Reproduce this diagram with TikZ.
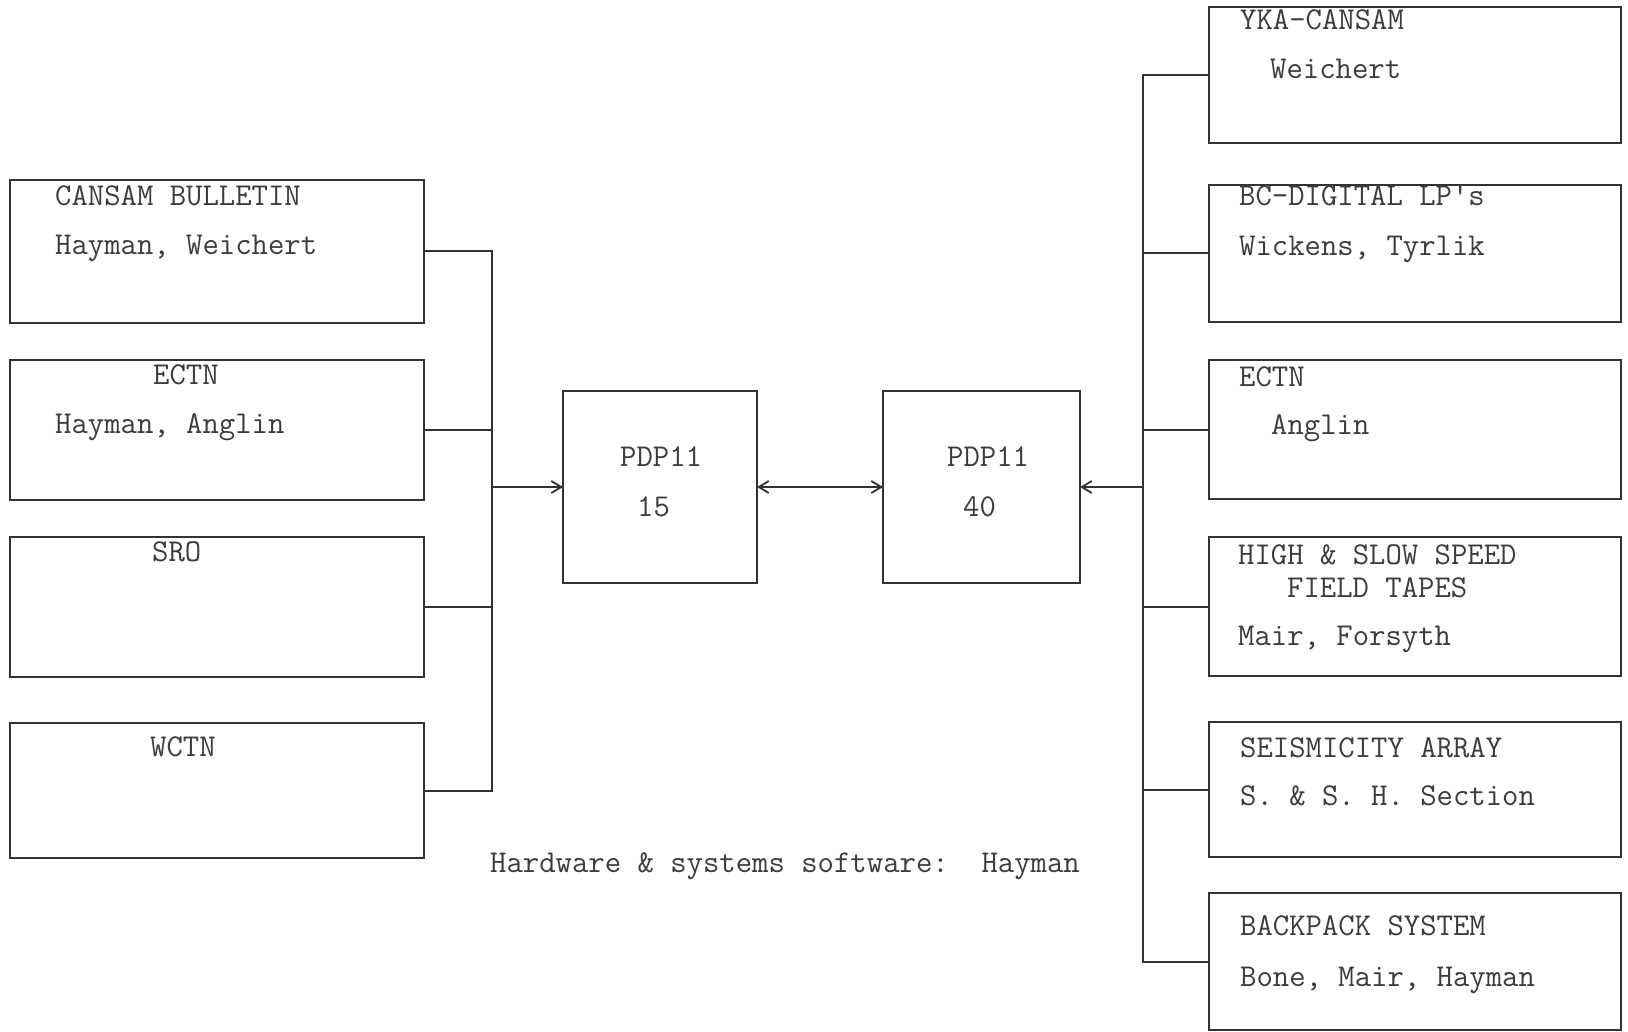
\documentclass[tikz,border=0pt]{standalone}
\usepackage{fontspec}
\usetikzlibrary{arrows.meta}
\definecolor{ink}{HTML}{333333}
\definecolor{txt}{HTML}{3C3C3C}
\begin{document}
\begin{tikzpicture}[x=1pt,y=-1pt,
  box/.style={draw=ink,line width=2pt,rectangle,inner sep=0pt,outer sep=0pt},
  lbl/.style={anchor=base west,inner sep=0pt,text=txt,font=\ttfamily\fontsize{31.8}{36}\selectfont},
  wire/.style={draw=ink,line width=2pt},
  arr/.style={wire,-{Straight Barb[length=10pt,width=12pt,line width=1.8pt]}},
  darr/.style={wire,{Straight Barb[length=10pt,width=12pt,line width=1.8pt]}-{Straight Barb[length=10pt,width=12pt,line width=1.8pt]}}]
\useasboundingbox (0,0) rectangle (1628,1032);
\fill[white] (0,0) rectangle (1628,1032);

% left boxes
\node[box,minimum width=414pt,minimum height=143pt] (L1) at (217,251.5) {};
\node[box,minimum width=414pt,minimum height=140pt] (L2) at (217,430) {};
\node[box,minimum width=414pt,minimum height=140pt] (L3) at (217,607) {};
\node[box,minimum width=414pt,minimum height=135pt] (L4) at (217,790.5) {};
% computers
\node[box,minimum width=194pt,minimum height=192pt] (P15) at (660,487) {};
\node[box,minimum width=197pt,minimum height=192pt] (P40) at (981.5,487) {};
% right boxes
\node[box,minimum width=412pt,minimum height=136pt] (R1) at (1415,75) {};
\node[box,minimum width=412pt,minimum height=137pt] (R2) at (1415,253.5) {};
\node[box,minimum width=412pt,minimum height=139pt] (R3) at (1415,429.5) {};
\node[box,minimum width=412pt,minimum height=139pt] (R4) at (1415,606.5) {};
\node[box,minimum width=412pt,minimum height=135pt] (R5) at (1415,789.5) {};
\node[box,minimum width=412pt,minimum height=137pt] (R6) at (1415,961.5) {};

% texts
\node[lbl] (t1a) at (55,206) {CANSAM BULLETIN};
\node[lbl] (t1b) at (55,255) {Hayman, Weichert};
\node[lbl] (t2a) at (153,384) {ECTN};
\node[lbl] (t2b) at (55,433) {Hayman, Anglin};
\node[lbl] (t3a) at (152,561) {SRO};
\node[lbl] (t4a) at (150,756) {WCTN};
\node[lbl] (p1a) at (620,466) {PDP11};
\node[lbl] (p1b) at (637,516) {15};
\node[lbl] (p2a) at (947,466) {PDP11};
\node[lbl] (p2b) at (963,516) {40};
\node[lbl] (r1a) at (1240,30) {YKA-CANSAM};
\node[lbl] (r1b) at (1270,79) {Weichert};
\node[lbl] (r2a) at (1239,206) {BC-DIGITAL LP\textquotesingle s};
\node[lbl] (r2b) at (1239,256) {Wickens, Tyrlik};
\node[lbl] (r3a) at (1239,386) {ECTN};
\node[lbl] (r3b) at (1271,434) {Anglin};
\node[lbl] (r4a) at (1238,564) {HIGH \& SLOW SPEED};
\node[lbl] (r4b) at (1287,597) {FIELD TAPES};
\node[lbl] (r4c) at (1238,645) {Mair, Forsyth};
\node[lbl] (r5a) at (1240,757) {SEISMICITY ARRAY};
\node[lbl] (r5b) at (1240,805) {S. \& S. H. Section};
\node[lbl] (r6a) at (1240,935) {BACKPACK SYSTEM};
\node[lbl] (r6b) at (1240,986) {Bone, Mair, Hayman};
\node[lbl] (cap) at (490,872) {Hardware \& systems software:\ \ Hayman};

% buses
\coordinate (lbus) at (492,0);
\coordinate (rbus) at (1143,0);

\draw[wire] (L1.east) -- (L1.east -| lbus) -- (L4.east -| lbus) -- (L4.east);
\draw[wire] (L2.east) -- (L2.east -| lbus);
\draw[wire] (L3.east) -- (L3.east -| lbus);
\draw[arr] (P15.west -| lbus) -- (P15.west);
\draw[darr] (P15.east) -- (P40.west);

\draw[wire] (R1.west) -- (R1.west -| rbus) -- (R6.west -| rbus) -- (R6.west);
\draw[wire] (R2.west) -- (R2.west -| rbus);
\draw[wire] (R3.west) -- (R3.west -| rbus);
\draw[wire] (R4.west) -- (R4.west -| rbus);
\draw[wire] (R5.west) -- (R5.west -| rbus);
\draw[arr] (P40.east -| rbus) -- (P40.east);
\end{tikzpicture}
\end{document}
